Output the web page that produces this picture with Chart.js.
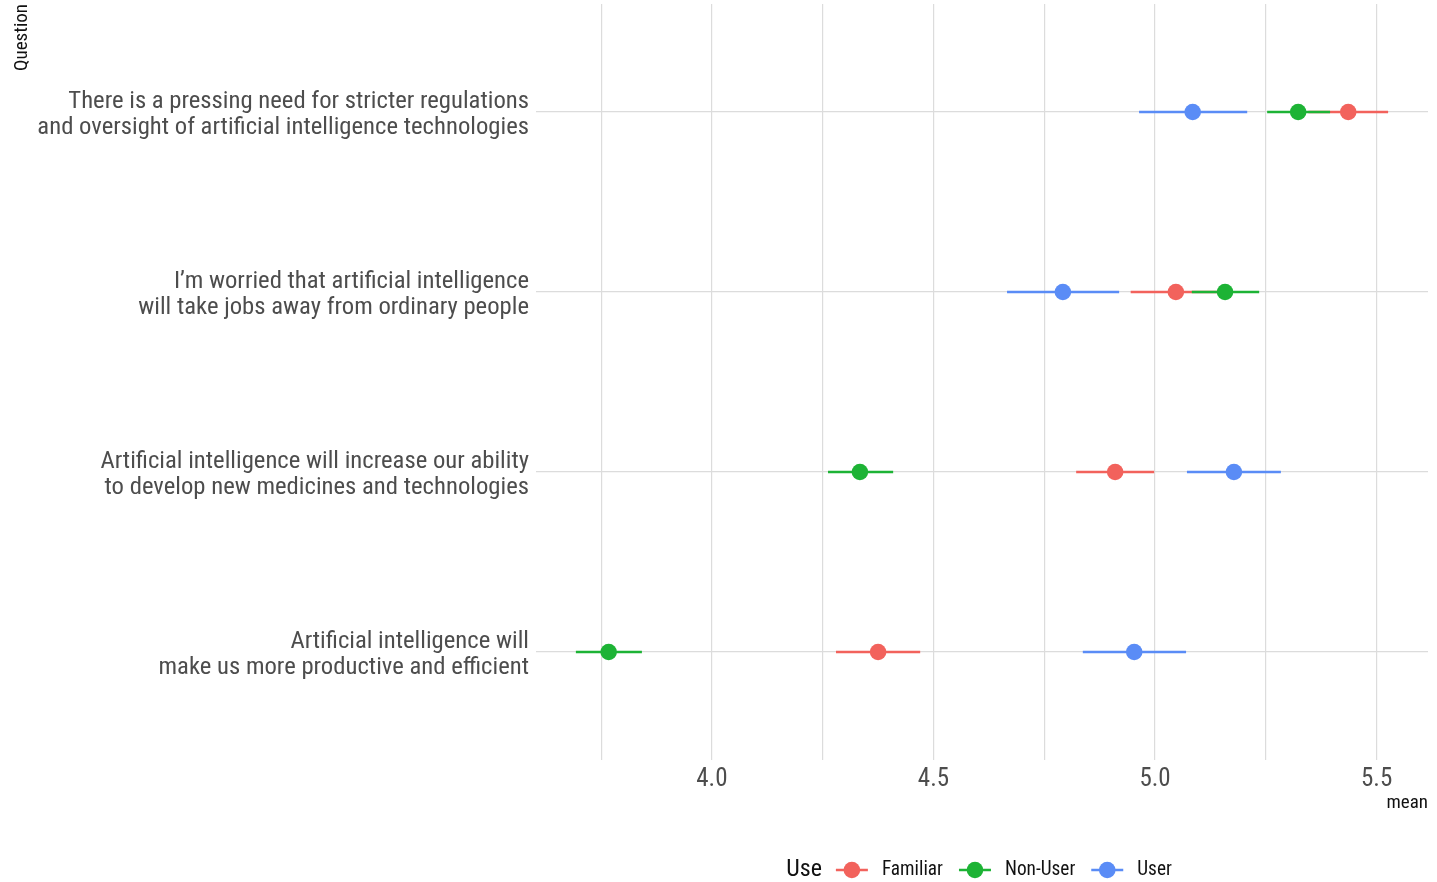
<!DOCTYPE html>
<html>
<head>
<meta charset="utf-8">
<script src="https://cdn.jsdelivr.net/npm/chart.js@4/dist/chart.umd.min.js"></script>
<style>
  html, body { margin: 0; padding: 0; background: #ffffff; }
  #wrap { width: 1437px; height: 882px; position: relative; }
</style>
</head>
<body>
<div id="wrap"><canvas id="chart"></canvas></div>
<script>
// Survey statements (two-line labels), top to bottom
const questions = [
  ["There is a pressing need for stricter regulations", "and oversight of artificial intelligence technologies"],
  ["I\u2019m worried that artificial intelligence", "will take jobs away from ordinary people"],
  ["Artificial intelligence will increase our ability", "to develop new medicines and technologies"],
  ["Artificial intelligence will", "make us more productive and efficient"]
];

// Respondent groups
const groups = ["Familiar", "Non-User", "User"];
const groupColors = ["#F2625C", "#1DB335", "#5A8CF6"];

// Mean agreement and interval bounds per statement, for each group
const familiarMean = [5.436, 5.047, 4.910, 4.375];
const familiarLow  = [5.346, 4.945, 4.822, 4.280];
const familiarHigh = [5.526, 5.149, 4.998, 4.470];

const nonUserMean = [5.323, 5.158, 4.334, 3.767];
const nonUserLow  = [5.253, 5.083, 4.262, 3.693];
const nonUserHigh = [5.395, 5.235, 4.409, 3.842];

const userMean = [5.085, 4.792, 5.178, 4.953];
const userLow  = [4.964, 4.666, 5.072, 4.837];
const userHigh = [5.208, 4.919, 5.284, 5.070];

// Axis ticks
const xGridValues = [3.75, 4.0, 4.25, 4.5, 4.75, 5.0, 5.25, 5.5];
const xTickLabels = ["", "4.0", "", "4.5", "", "5.0", "", "5.5"];

const FONT = "'Roboto Condensed', 'Liberation Sans Narrow', 'DejaVu Sans Condensed', Roboto, sans-serif";
const GRID = "#DCDCDC";

const series = [
  { mean: familiarMean, low: familiarLow, high: familiarHigh },
  { mean: nonUserMean, low: nonUserLow, high: nonUserHigh },
  { mean: userMean, low: userLow, high: userHigh }
];

const datasets = [];
// Interval segments: one short line per statement and group, drawn beneath the points
series.forEach((s, g) => {
  questions.forEach((q, i) => {
    datasets.push({
      type: "line",
      label: groups[g],
      data: [{ x: s.low[i], y: i + 1 }, { x: s.high[i], y: i + 1 }],
      borderColor: groupColors[g],
      borderWidth: 2.6,
      pointRadius: 0,
      pointHoverRadius: 0,
      fill: false,
      tension: 0,
      order: 10 - g
    });
  });
});
// Mean points
series.forEach((s, g) => {
  datasets.push({
    type: "scatter",
    label: groups[g],
    data: s.mean.map((m, i) => ({ x: m, y: i + 1 })),
    backgroundColor: groupColors[g],
    borderColor: groupColors[g],
    borderWidth: 0,
    pointRadius: 8.3,
    pointHoverRadius: 8.3,
    order: 5 - g
  });
});

// Axis titles and the group key, drawn in ggplot style
const annotations = {
  id: "annotations",
  afterDraw(chart) {
    const ctx = chart.ctx;
    const area = chart.chartArea;
    ctx.save();

    // y-axis title, rotated, flush with the top
    ctx.fillStyle = "#111111";
    ctx.font = "19px " + FONT;
    ctx.translate(27, 4);
    ctx.rotate(-Math.PI / 2);
    ctx.textAlign = "right";
    ctx.textBaseline = "alphabetic";
    ctx.fillText("Question", 0, 0);
    ctx.setTransform(1, 0, 0, 1, 0, 0);

    // x-axis title, flush right
    ctx.textAlign = "right";
    ctx.textBaseline = "middle";
    ctx.font = "19px " + FONT;
    ctx.fillText("mean", area.right, 803);

    // legend
    const y = 870;
    const titleFont = "24px " + FONT;
    const labelFont = "19.3px " + FONT;
    const keyW = 32, gapTitle = 14, gapKey = 14, gapItem = 16;
    ctx.font = titleFont;
    const titleW = ctx.measureText("Use").width;
    ctx.font = labelFont;
    const labelW = groups.map(t => ctx.measureText(t).width);
    let total = titleW;
    labelW.forEach((w, i) => { total += (i === 0 ? gapTitle : gapItem) + keyW + gapKey + w; });
    let x = (area.left + area.right) / 2 - total / 2 - 3;
    ctx.textAlign = "left";
    ctx.textBaseline = "middle";
    ctx.fillStyle = "#111111";
    ctx.font = titleFont;
    ctx.fillText("Use", x, y);
    x += titleW;
    groups.forEach((name, i) => {
      x += (i === 0 ? gapTitle : gapItem);
      ctx.strokeStyle = groupColors[i];
      ctx.lineWidth = 2.6;
      ctx.beginPath();
      ctx.moveTo(x, y);
      ctx.lineTo(x + keyW, y);
      ctx.stroke();
      ctx.fillStyle = groupColors[i];
      ctx.beginPath();
      ctx.arc(x + keyW / 2, y, 8.3, 0, Math.PI * 2);
      ctx.fill();
      x += keyW + gapKey;
      ctx.fillStyle = "#111111";
      ctx.font = labelFont;
      ctx.fillText(name, x, y);
      x += labelW[i];
    });
    ctx.restore();
  }
};

new Chart(document.getElementById("chart"), {
  data: { datasets },
  options: {
    responsive: true,
    maintainAspectRatio: false,
    animation: false,
    devicePixelRatio: 1,
    layout: { autoPadding: false, padding: { top: 4, right: 9, bottom: 0, left: 0 } },
    plugins: {
      legend: { display: false },
      tooltip: { enabled: false }
    },
    scales: {
      x: {
        type: "linear",
        min: 3.603,
        max: 5.616,
        border: { display: false },
        grid: { color: GRID, lineWidth: 1.2, drawTicks: false },
        afterBuildTicks(scale) { scale.ticks = xGridValues.map(v => ({ value: v })); },
        afterFit(scale) {
          scale.height = 122;
          scale.paddingLeft = 0;
          scale.paddingRight = 0;
        },
        ticks: {
          padding: 5,
          color: "#4D4D4D",
          font: { family: FONT, size: 25 },
          maxRotation: 0,
          autoSkip: false,
          callback(value) {
            const idx = xGridValues.findIndex(v => Math.abs(v - value) < 1e-9);
            return idx >= 0 ? xTickLabels[idx] : "";
          }
        }
      },
      y: {
        type: "linear",
        reverse: true,
        min: 0.4,
        max: 4.6,
        border: { display: false },
        grid: { color: GRID, lineWidth: 1.2, drawTicks: false },
        afterBuildTicks(scale) { scale.ticks = questions.map((q, i) => ({ value: i + 1 })); },
        afterFit(scale) {
          scale.width = 536;
          scale.paddingTop = 0;
          scale.paddingBottom = 0;
        },
        ticks: {
          padding: 7,
          labelOffset: 3,
          color: "#4D4D4D",
          font: { family: FONT, size: 24.7, lineHeight: 1.05 },
          autoSkip: false,
          callback(value) { return questions[Math.round(value) - 1]; }
        }
      }
    }
  },
  plugins: [annotations]
});
</script>
</body>
</html>
